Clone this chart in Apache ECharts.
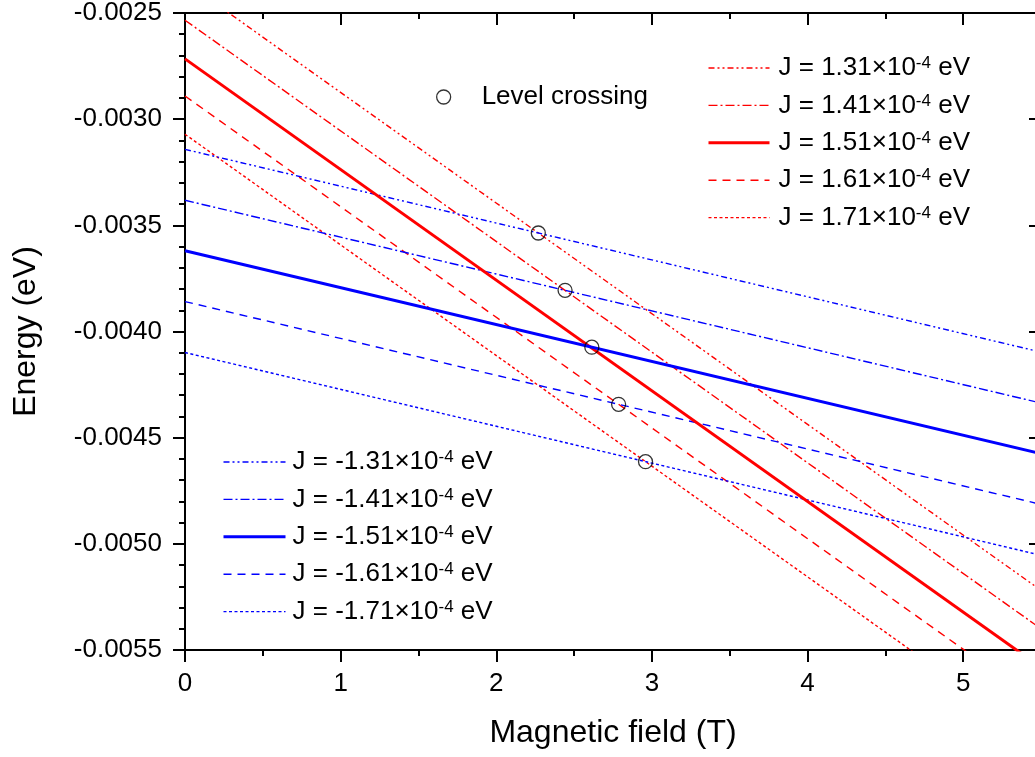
<!DOCTYPE html>
<html>
<head>
<meta charset="utf-8">
<script src="https://cdn.jsdelivr.net/npm/echarts@6/dist/echarts.min.js"></script>
<style>
html,body{margin:0;padding:0;background:#fff;}
#chart{width:1035px;height:757px;}
</style>
</head>
<body>
<div id="chart"></div>
<script>
// ---- data ----
const fieldEnds = [0, 5.5];                        // magnetic field (T) at the two ends of each straight line
const redNames  = ['J = 1.31×10-4 eV', 'J = 1.41×10-4 eV', 'J = 1.51×10-4 eV', 'J = 1.61×10-4 eV', 'J = 1.71×10-4 eV'];
const redStart  = [-0.002353, -0.002534, -0.002716, -0.002891, -0.003071];   // energy at B = 0
const redEnd    = [-0.005219, -0.005400, -0.005582, -0.005757, -0.005937];   // energy at B = 5.5
const blueNames = ['J = -1.31×10-4 eV', 'J = -1.41×10-4 eV', 'J = -1.51×10-4 eV', 'J = -1.61×10-4 eV', 'J = -1.71×10-4 eV'];
const blueStart = [-0.003142, -0.003382, -0.003620, -0.003859, -0.004099];
const blueEnd   = [-0.004097, -0.004337, -0.004575, -0.004814, -0.005054];
const crossField  = [2.270, 2.442, 2.614, 2.786, 2.959];
const crossEnergy = [-0.003536, -0.003806, -0.004074, -0.004343, -0.004613];
const crossName = 'Level crossing';
const yTickLabels = ['-0.0055','-0.0050','-0.0045','-0.0040','-0.0035','-0.0030','-0.0025'];

// ---- styles ----
const FONT = "'Liberation Sans', Arial, sans-serif";
const dashStyles = [[6,3,2,3,2,3], [9,3,2,3], 'solid', [8,6], [3,2.5]];
const widths = [1.4, 1.4, 3, 1.4, 1.4];

function lineSeries(names, starts, ends, color) {
  return names.map((n, i) => ({
    name: n,
    type: 'line',
    xAxisIndex: 0, yAxisIndex: 0,
    symbol: 'none',
    showSymbol: false,
    clip: true,
    silent: true,
    data: [[fieldEnds[0], starts[i]], [fieldEnds[1], ends[i]]],
    lineStyle: { color: color, width: widths[i], type: dashStyles[i] },
    itemStyle: { color: color },
    z: i === 2 ? 3 : 2
  }));
}

function legendData(names, color) {
  return names.map((n, i) => ({
    name: n,
    lineStyle: { color: color, width: widths[i], type: dashStyles[i] }
  }));
}

const legendRich = {
  n: { fontSize: 26, lineHeight: 26, color: '#000', fontFamily: FONT },
  s: { fontSize: 17, lineHeight: 17, color: '#000', fontFamily: FONT, verticalAlign: 'top' }
};
function legendFmt(name) {
  const m = name.match(/^(.*×10)(-4)(.*)$/);
  if (!m) return '{n|' + name + '}';
  return '{n|' + m[1] + '}{s|' + m[2] + '}{n|' + m[3] + '}';
}

const axisLineStyle = { color: '#000', width: 2 };
const minX = 0, maxX = 5.5, minY = -0.0055, maxY = -0.0025;

function xAx(pos, interval, len, inside, showLine, showLabel, name) {
  return {
    type: 'value', position: pos, min: minX, max: maxX, interval: interval,
    gridIndex: 0,
    axisLine: { show: showLine, onZero: false, lineStyle: axisLineStyle },
    axisTick: { show: true, inside: inside, length: len, lineStyle: { color: '#000', width: 2 } },
    axisLabel: {
      show: showLabel, margin: 21, fontSize: 26, color: '#000', fontFamily: FONT,
      formatter: v => (Math.abs(v - Math.round(v)) < 1e-9 ? String(Math.round(v)) : '')
    },
    splitLine: { show: false },
    name: name || '', nameLocation: 'middle', nameGap: 67,
    nameTextStyle: { fontSize: 32, color: '#000', fontFamily: FONT }
  };
}

const option = {
  animation: false,
  backgroundColor: '#fff',
  grid: { left: 185, top: 13, width: 856, height: 637, outerBoundsMode: 'none', containLabel: false },
  xAxis: [
    xAx('bottom', 1, 12, false, true, true, 'Magnetic field (T)'),
    xAx('bottom', 0.5, 6, false, false, false),
    xAx('top', 1, 12, true, true, false),
    xAx('top', 0.5, 6, true, false, false)
  ],
  yAxis: [
    {
      type: 'value', position: 'left', min: minY, max: maxY, interval: 0.0005,
      axisLine: { show: true, onZero: false, lineStyle: axisLineStyle },
      axisTick: { show: true, inside: false, length: 12, lineStyle: { color: '#000', width: 2 } },
      minorTick: { show: true, splitNumber: 5, length: 6, lineStyle: { color: '#000', width: 2 } },
      axisLabel: {
        margin: 23, fontSize: 26, color: '#000', fontFamily: FONT,
        formatter: v => { const i = Math.round((v - minY) / 0.0005); return yTickLabels[i] || ''; }
      },
      splitLine: { show: false }, minorSplitLine: { show: false },
      name: 'Energy (eV)', nameLocation: 'middle', nameGap: 143, nameRotate: 90,
      nameTextStyle: { fontSize: 32, color: '#000', fontFamily: FONT }
    },
    {
      type: 'value', position: 'right', min: minY, max: maxY, interval: 0.0005,
      axisLine: { show: true, onZero: false, lineStyle: axisLineStyle },
      axisTick: { show: true, inside: true, length: 12, lineStyle: { color: '#000', width: 2 } },
      minorTick: { show: true, splitNumber: 5, length: 6, lineStyle: { color: '#000', width: 2 } },
      axisLabel: { show: false },
      splitLine: { show: false }, minorSplitLine: { show: false }
    }
  ],
  legend: [
    {
      data: legendData(redNames, '#ff0000'), orient: 'vertical', left: 707, top: 55, padding: 0,
      itemWidth: 61, itemHeight: 14, itemGap: 11.4,
      formatter: legendFmt,
      itemStyle: { color: 'rgba(0,0,0,0)', borderWidth: 0, opacity: 0 },
      textStyle: { rich: legendRich, padding: [0, 0, 0, 4] },
      selectedMode: false
    },
    {
      data: legendData(blueNames, '#0000ff'), orient: 'vertical', left: 222, top: 449, padding: 0,
      itemWidth: 62, itemHeight: 14, itemGap: 11.4,
      formatter: legendFmt,
      itemStyle: { color: 'rgba(0,0,0,0)', borderWidth: 0, opacity: 0 },
      textStyle: { rich: legendRich, padding: [0, 0, 0, 2] },
      selectedMode: false
    },
    {
      data: [crossName], orient: 'vertical', left: 436, top: 84, padding: 0,
      itemWidth: 14, itemHeight: 14,
      itemStyle: { color: 'rgba(0,0,0,0)', borderColor: '#000', borderWidth: 1.3 },
      textStyle: { fontSize: 26, color: '#000', fontFamily: FONT, padding: [0, 0, 0, 26] },
      selectedMode: false
    }
  ],
  series: [
    ...lineSeries(redNames, redStart, redEnd, '#ff0000'),
    ...lineSeries(blueNames, blueStart, blueEnd, '#0000ff'),
    {
      name: crossName, type: 'scatter', xAxisIndex: 0, yAxisIndex: 0,
      symbol: 'circle', symbolSize: 14,
      data: crossField.map((b, i) => [b, crossEnergy[i]]),
      itemStyle: { color: 'rgba(0,0,0,0)', borderColor: '#000', borderWidth: 1.3 },
      z: 5
    }
  ]
};

const chart = echarts.init(document.getElementById('chart'), null, { renderer: 'canvas' });
chart.setOption(option);
</script>
</body>
</html>
